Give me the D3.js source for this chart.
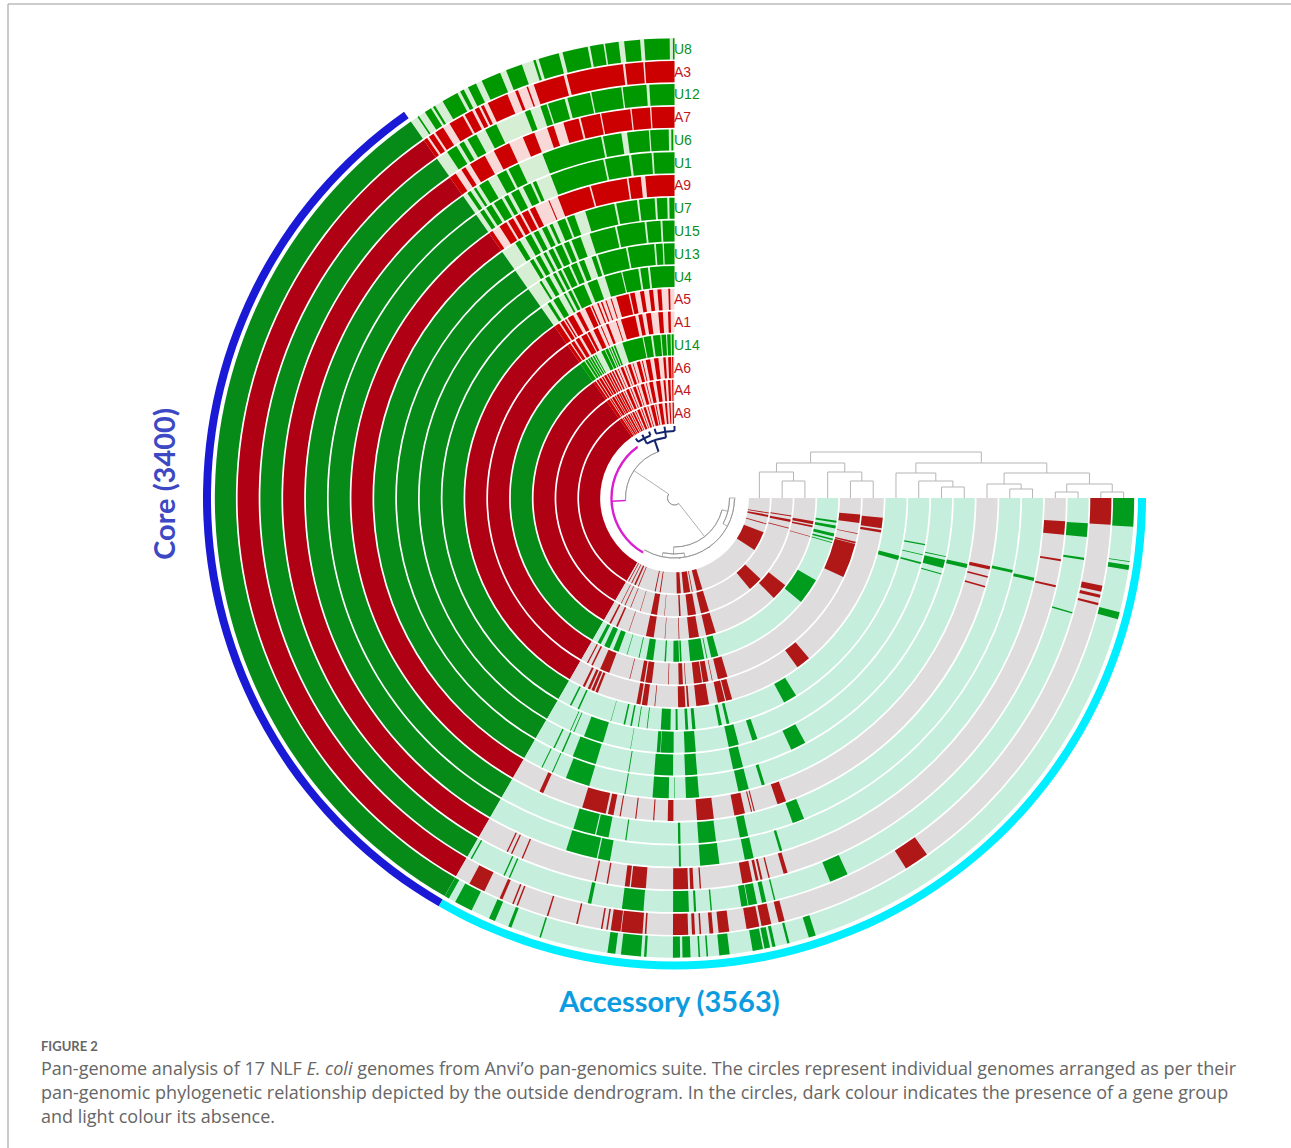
<!DOCTYPE html>
<html lang="en">
<head>
<meta charset="UTF-8">
<title>Pan-genome of 17 NLF E. coli</title>
<script src="https://d3js.org/d3.v7.min.js"></script>
<style>
  body { margin: 0; background: #fff; }
  svg { display: block; }
  text { font-family: Lato, "Open Sans", sans-serif; }
</style>
</head>
<body>
<svg id="chart" width="1291" height="1148"></svg>
<script>
// genomes from the outer ring to the inner ring
var genomes = ["U8","A3","U12","A7","U6","U1","A9","U7","U15","U13","U4","A5","A1","U14","A6","A4","A8"];
var coreCount = 3400, accessoryCount = 3563;

// layout positions of the gene groups, read as degrees round the 270 degree spiral
var regionBreaks = [0, 35, 150, 270];

// presence blocks outside the core, [from, to] for every genome
var U8 = [[0,.2],[.6,3.8],[4.3,6.3],[7,8.7],[8.9,10.6],[10.9,14.1],[14.6,17.2],[17.6,17.9],[19.4,21.5],[22.3,24.8],[25.6,26.7],[27.3,27.8],[28.2,30.3],[31.4,31.7],[32,32.9],[33.8,34],
  [150,150.6],[151.5,153.8],[156.2,157],[158.8,159.2],[162.9,163.1],[171.6,172.6],[173.3,175.8],[176.2,176.5],[179.8,180.7],[181,182],[183,183.2],[184,184.2],[185.6,186.9],[189.8,191.1],[191.3,192],[192.3,192.7],[194.2,194.5],[197,197.9],[254.7,255.6],[261,261.6],[262,262.1],[266.4,270]];
var A3 = [[0,3.9],[4.1,6.5],[6.8,14.3],[14.7,18.8],[19.6,19.8],[21,21.4],[22.5,25.3],[25.9,26.3],[26.6,27.2],[27.6,28.7],[29,31],[32,33.2],[33.5,34.2],[34.5,35],
  [152,154.2],[156.4,156.8],[158.2,158.4],[158.8,159],[163,163.2],[167,167.2],[170.3,170.5],[171,171.2],[171.6,172.9],[173,175.8],[176.1,176.3],[179.8,181.8],[182.3,182.7],[183.3,183.5],[184.6,185.1],[185.8,187.2],[189.5,191.2],[191.5,192.8],[193.8,194.6],[212,215.3],[255.8,256.1],[256.8,257.2],[257.6,258.4],[266.5,270]];
var U12 = [[0,3.5],[3.9,7.2],[7.4,11.6],[11.8,15],[15.4,17.8],[18,18.9],[20.4,21.2],[25.5,27.2],[28.6,30],[30.6,31.3],[31.8,33.3],
  [150.5,150.7],[155.6,155.8],[156.4,156.6],[167.9,168.4],[172.7,175.7],[179.8,182],[182.7,183],[185,185.2],[189.3,190.2],[190.3,191.5],[192.2,192.8],[193.9,194.1],[202.1,204.7],[253.8,254],[261.4,261.7],[264.6,266.5]];
var A7 = [[0,3.4],[3.6,6.3],[6.5,10.8],[11,13.9],[14.2,16.5],[18,19],[21,22.8],[25,27.5],[29,31.5],[32.3,33],[34,35],
  [154.6,154.8],[155.3,155.5],[157,157.2],[168.2,168.4],[170,170.2],[172.7,173.4],[173.6,175.8],[179.8,182],[182.3,182.8],[183.7,183.9],[190,191.5],[192,192.4],[192.7,193],[193.9,194.1],[196.2,196.8],[256.8,257.1],[260.7,261],[264.6,266.6]];
var U6 = [[.2,.5],[.9,3.8],[4,7.4],[8.3,11.2],[11.5,21],[25,26.8],[27.2,28.8],[30.4,32],[32.6,33],[33.6,34.2],
  [162.9,167.8],[168,169.9],[180.7,181],[184,187],[191,192.4],[196.6,197],[257,257.5]];
var U1 = [[0,3.5],[3.8,7.2],[7.6,11.6],[11.9,21],[23.6,24.2],[24.6,26],[26.8,28.2],[28.8,29.5],[30,31.5],[32,33],[33.5,34.2],
  [163,166.7],[166.9,169],[171.8,172],[180.6,181],[184,186.9],[190.9,192.3],[200,202],[257.5,258]];
var A9 = [[0,5.2],[6,8.2],[8.5,15],[15.3,21.2],[22.8,23],[25.6,26.6],[27,28.2],[28.6,29.5],[30,31],[31.4,32.8],[34.3,35],
  [155.3,156],[163.4,167.7],[168.1,169.1],[170.2,170.4],[173,173.2],[176.2,176.4],[178.8,179.8],[184,187],[190.7,192.6],[193.7,193.9],[194.2,194.4],[198.6,200.2],[253.9,254.2],[255.7,256],[257.2,257.8]];
var U7 = [[0,1],[1.4,3.4],[3.8,6.8],[7.2,11.2],[11.6,17.3],[19.5,21],[21.4,23],[24,24.6],[25.2,26.2],[27,28],[28.6,29.8],[31,32],
  [153.7,153.9],[155.9,156.1],[158.8,163.5],[170.4,170.6],[175.8,178.9],[180,180.1],[182.2,184.7],[192.3,194.3],[196.9,197.5],[256.5,257.3]];
var U15 = [[0,2.5],[2.9,5.8],[6.2,12],[12.4,17.8],[19.8,21.8],[22.4,23.5],[24,25.5],[26,27],[27.6,28.2],[29,30],[30.6,31.4],
  [154.1,154.4],[156,156.3],[158.5,163.5],[170.4,170.6],[175.8,179.7],[182.2,184.7],[192.2,194.3],[204.9,208.1],[254,254.2],[255.4,257.1],[257.7,257.9]];
var U13 = [[0,2.4],[2.7,4.2],[4.6,10.6],[11,17.5],[18,19],[20.8,22],[22.6,24],[24.5,26],[26.5,27.2],[27.8,28.5],[29.5,30.5],[31.5,32],
  [155.8,156],[156.6,156.8],[159.2,163.7],[170,170.1],[176,176.8],[176.9,179.8],[182.3,184.8],[192.3,194.6],[197.8,199],[255,255.4],[257,257.2],[259.3,259.6]];
var U4 = [[0,6.1],[6.6,8.5],[9,13],[13.3,17.5],[19.5,22],[23,26],[26.5,27.3],[28,28.5],[30,31.5],[32.4,33.2],
  [153.2,153.6],[155.3,155.7],[164,164.1],[167.3,167.7],[169,169.4],[170.9,171.1],[173.1,173.3],[176.6,179],[180.3,180.8],[182.7,183.4],[184.4,185.2],[191,191.8],[193,193.7],[208.2,211.6],[254.5,255.6]];
var A5 = [[1.2,1.7],[3.6,4.7],[5.9,7],[8.4,9.5],[11,12.3],[12.7,16.2],[17.5,17.8],[19,19.3],[20.2,20.6],[21.3,21.7],[23,23.4],[23.8,25.3],[26.9,28],[29,30.7],[31.2,31.6],[32,33],[33.5,35],
  [154,154.6],[155.5,156.2],[156.6,157.4],[157.8,158.5],[169.5,170.6],[171,172.5],[174.5,174.7],[181,183],[183.5,184],[186,189.5],[192,194],[194.3,196],[216,220],[260.5,261.2],[261.7,264.6]];
var A1 = [[1.2,2],[3.6,5],[7.3,8.8],[10,11.2],[12.2,16.7],[18,18.3],[20.8,21.6],[23,23.3],[24.3,25.8],[27,27.8],[28.2,30],[30.8,32],[32.6,33.6],[34,35],
  [152,152.4],[153.5,154],[156.5,159.5],[166,166.2],[169.4,170.6],[171,173],[178,178.2],[181.3,182.6],[183.3,183.5],[186,188.5],[188.8,190.5],[191.6,191.8],[193.5,196.5],[244.9,255.7],[255.9,256.4],[258.9,259.1],[262.3,264.9]];
var U14 = [[.3,1],[1.4,2.6],[3,4.6],[5,7.6],[8.3,10.9],[11.3,18.6],[21.2,21.8],[22.2,22.8],[23.2,23.6],[24,25],[25.3,26.6],[28.7,29.1],[29.5,30],[30.4,31],[31.3,31.9],[32.2,33],[33.4,35],
  [152,153.2],[154.6,156.6],[158,160],[163,163.2],[167.3,167.6],[170,172.5],[176.5,177],[179.6,181.6],[181.9,182.5],[185.5,190.5],[191.3,191.6],[193,195.5],[230.6,239.8],[254,254.3],[255,255.6],[256.4,257.5],[259.3,260.3],[261.3,262]];
var A6 = [[.5,1],[1.4,2.6],[3.6,4.6],[6.6,8.4],[10,11.8],[13,13.4],[14.2,15.6],[17,17.3],[18.2,19.4],[20.3,20.6],[21.4,22.5],[23.4,23.7],[24.5,25.2],[25.8,26.4],[26.9,27.6],[28,28.6],[29,30],[30.4,31],[31.4,32.4],[32.8,33.6],[34,35],
  [152.5,153.2],[155.5,156.2],[161,161.2],[168.3,171.5],[176,176.2],[181.7,182],[186,190],[193,197],[224.8,231.8],[254,254.3],[258,258.7],[259.3,260.5]];
var A4 = [[.6,1.2],[2,3.2],[4.4,5.4],[7,9],[10.6,12.4],[13.6,14],[15,16.6],[18,18.4],[19.2,20.6],[21.6,22],[22.8,24.2],[25,25.4],[26,27],[27.4,28],[28.4,29.4],[29.8,30.4],[30.8,32],[32.4,33],[33.4,35],
  [153,153.3],[155,155.4],[158,158.3],[163,163.2],[168.5,171.5],[175,175.2],[182.2,183],[186.5,190.5],[193,197],[219.7,226.7],[255,255.4],[258.3,259.5],[261,261.5]];
var A8 = [[.4,1.2],[2.4,3.2],[4.6,5.8],[7.4,9.6],[11,11.6],[12.4,14.6],[16,16.5],[17.6,19],[20,20.5],[21.4,23],[24,24.5],[25.2,26.4],[27,27.6],[28.2,29.4],[29.9,30.6],[31,32],[32.4,33],[33.4,35],
  [151,151.5],[153,153.5],[155,156],[157.5,158],[168,168.6],[171,171.6],[181.4,183.8],[185.5,189.5],[190.5,191],[193.5,197],[237,249],[254,254.5],[258.5,259.8],[260.7,261.3]];

var presence = [U8,A3,U12,A7,U6,U1,A9,U7,U15,U13,U4,A5,A1,U14,A6,A4,A8];

// gene group dendrogram above the right hand end, h = node height
var geneTree = {h:46, c:[
  {h:35, c:[
    {h:26, c:[{n:"A8"},{h:17, c:[{n:"A4"},{n:"A6"}]}]},
    {h:26, c:[{n:"U14"},{h:17, c:[{n:"A1"},{n:"A5"}]}]}
  ]},
  {h:35, c:[
    {h:25, c:[{n:"U4"},{h:17, c:[{n:"U13"},{h:11, c:[{n:"U15"},{n:"U7"}]}]}]},
    {h:25, c:[
      {h:14, c:[{n:"A9"},{h:9, c:[{n:"U1"},{n:"U6"}]}]},
      {h:14, c:[{h:6, c:[{n:"A7"},{n:"U12"}]},{h:6, c:[{n:"A3"},{n:"U8"}]}]}
    ]}
  ]}
]};

// gene cluster tree in the middle, r = radius of the node, a = position of a tip
var centerTree = {r:7, c:[
  {r:49, c:[
    {r:61, a:19, k:"blue", c:[
      {r:67, a:27, k:"blue", c:[{r:71,a:33,k:"blue"},{r:71,a:27,k:"blue"},{r:71,a:21,k:"blue"}]},
      {r:67, a:8, k:"blue", c:[{r:72,a:16,k:"blue"},{r:72,a:8,k:"blue"},{r:72,a:0,k:"blue"}]}
    ]},
    {r:63, k:"core", c:[{r:63.5,a:36,k:"core"},{r:63.5,a:150,k:"core"}]}
  ]},
  {r:49, a:218, c:[
    {r:56, a:179, c:[
      {r:60, a:168, c:[{r:61,a:150},{r:61,a:185}]},
      {r:60, a:190, c:[{r:61,a:185},{r:61,a:215}]}
    ]},
    {r:55, a:256, c:[
      {r:60, a:242, c:[{r:61,a:215},{r:61,a:269}]},
      {r:61,a:270}
    ]}
  ]}
]};

var captionLines = [
  [["Pan-genome analysis of 17 NLF ",0],["E. coli",1],[" genomes from Anvi\u2019o pan-genomics suite. The circles represent individual genomes arranged as per their",0]],
  [["pan-genomic phylogenetic relationship depicted by the outside dendrogram. In the circles, dark colour indicates the presence of a gene group",0]],
  [["and light colour its absence.",0]]
];

var svg = d3.select("#chart");
var cx = 674.5, cy = 498, rOuter = 460.5, rInner = 73.5;

var radius = d3.scaleBand().domain(genomes.slice().reverse()).range([rInner, rOuter]);
var angle = d3.scaleLinear().domain([0, 270]).range([0, -1.5 * Math.PI]);

var colors = {
  U: { top: "#009800", topLight: "#d6efd4", core: "#068a18", acc: "#009c1e", accLight: "#c5efdc" },
  A: { top: "#cc0000", topLight: "#f9d8d8", core: "#b00014", acc: "#b01818", accLight: "#dedcdd" }
};

// frame
svg.append("path").attr("d", d3.line()([[8,1148],[8,4],[1291,4]]))
  .attr("fill","none").attr("stroke","#999").attr("stroke-width",1);

var plot = svg.append("g").attr("transform", "translate(" + cx + "," + cy + ")");
var arc = d3.arc();

genomes.forEach(function (g, i) {
  var kind = colors[g[0]];
  var r0 = radius(g) + 0.85, r1 = radius(g) + radius.bandwidth() - 0.85;
  var ring = plot.append("g").attr("class", "ring");
  var base = [
    [regionBreaks[0], regionBreaks[1], kind.topLight],
    [regionBreaks[1], regionBreaks[2], kind.core],
    [regionBreaks[2], regionBreaks[3], kind.accLight]
  ];
  ring.selectAll(".base").data(base).enter().append("path").attr("class", "base")
    .attr("d", function (d) { return arc({innerRadius:r0, outerRadius:r1, startAngle:angle(d[1]), endAngle:angle(d[0])}); })
    .attr("fill", function (d) { return d[2]; });
  ring.selectAll(".gene").data(presence[i]).enter().append("path").attr("class", "gene")
    .attr("d", function (d) { return arc({innerRadius:r0, outerRadius:r1, startAngle:angle(d[1]), endAngle:angle(d[0])}); })
    .attr("fill", function (d) { return d[0] < regionBreaks[1] ? kind.top : kind.acc; });
});

// core and accessory bands
var bands = [
  [regionBreaks[1], regionBreaks[2], "#1a1ad6"],
  [regionBreaks[2], regionBreaks[3], "#00eeff"]
];
plot.selectAll(".band").data(bands).enter().append("path").attr("class", "band")
  .attr("d", function (d) { return arc({innerRadius:rOuter + 3, outerRadius:rOuter + 11, startAngle:angle(d[1]), endAngle:angle(d[0])}); })
  .attr("fill", function (d) { return d[2]; });

// genome labels
plot.selectAll(".label").data(genomes).enter().append("text").attr("class", "label")
  .attr("x", -0.5)
  .attr("y", function (g) { return -(radius(g) + radius.bandwidth() / 2) + 5; })
  .attr("font-size", 14).style("font-family", "'Liberation Sans', sans-serif")
  .attr("fill", function (g) { return g[0] === "U" ? "#0a8f1a" : "#c1161c"; })
  .text(function (g) { return g; });

// gene group dendrogram
var geneRoot = d3.hierarchy(geneTree, function (d) { return d.c; });
geneRoot.eachAfter(function (n) {
  n.px = n.children ? d3.mean(n.children, function (k) { return k.px; })
    : radius(n.data.n) + radius.bandwidth() / 2;
  n.py = -(n.data.h || 0);
});
var treeG = plot.append("g").attr("fill", "none").attr("stroke", "#b5b5b5").attr("stroke-width", 1);
treeG.selectAll("path").data(geneRoot.links()).enter().append("path")
  .attr("d", function (l) {
    return d3.line()([[l.source.px, l.source.py], [l.target.px, l.source.py], [l.target.px, l.target.py]]);
  });

// central gene cluster tree
var centerRoot = d3.hierarchy(centerTree, function (d) { return d.c; });
centerRoot.eachAfter(function (n) {
  n.th = n.data.a !== undefined ? n.data.a : d3.mean(n.children, function (k) { return k.th; });
});
var treeColor = { blue: "#14246e", core: "#d91fd0" };
var spoke = d3.lineRadial().angle(function (d) { return angle(d[0]); }).radius(function (d) { return d[1]; });
var centerG = plot.append("g").attr("fill", "none");
centerRoot.descendants().forEach(function (n) {
  var col = treeColor[n.data.k] || "#8c8c8c";
  var w = n.data.k === "core" ? 2.4 : n.data.k === "blue" ? 2 : 0.7;
  if (n.parent) {
    centerG.append("path").attr("d", spoke([[n.th, n.parent.data.r], [n.th, n.data.r]]))
      .attr("stroke", col).attr("stroke-width", n.data.k === "core" && n.data.a === undefined ? 1.6 : w);
  }
  if (n.children) {
    var ths = n.children.map(function (k) { return k.th; });
    centerG.append("path")
      .attr("d", arc({innerRadius:n.data.r, outerRadius:n.data.r, startAngle:angle(d3.max(ths)), endAngle:angle(d3.min(ths))}))
      .attr("stroke", col).attr("stroke-width", w);
  }
});

// titles
svg.append("text").attr("transform", "translate(175,484) rotate(-90)")
  .attr("text-anchor", "middle").attr("font-size", 29).attr("font-weight", 700)
  .attr("fill", "#3c48c4").text("Core (" + coreCount + ")");
svg.append("text").attr("x", 669.5).attr("y", 1012)
  .attr("text-anchor", "middle").attr("font-size", 29).attr("font-weight", 700)
  .attr("fill", "#0d9be0").text("Accessory (" + accessoryCount + ")");

// caption
svg.append("text").attr("x", 41).attr("y", 1051)
  .attr("font-size", 13).attr("font-weight", 700).attr("fill", "#666").text("FIGURE 2");
captionLines.forEach(function (line, i) {
  var t = svg.append("text").attr("x", 41).attr("y", 1075 + i * 24)
    .attr("font-size", 18).attr("fill", "#666").style("font-family", "'Open Sans', sans-serif");
  line.forEach(function (part) {
    t.append("tspan").attr("font-style", part[1] ? "italic" : "normal").text(part[0]);
  });
});
</script>
</body>
</html>
